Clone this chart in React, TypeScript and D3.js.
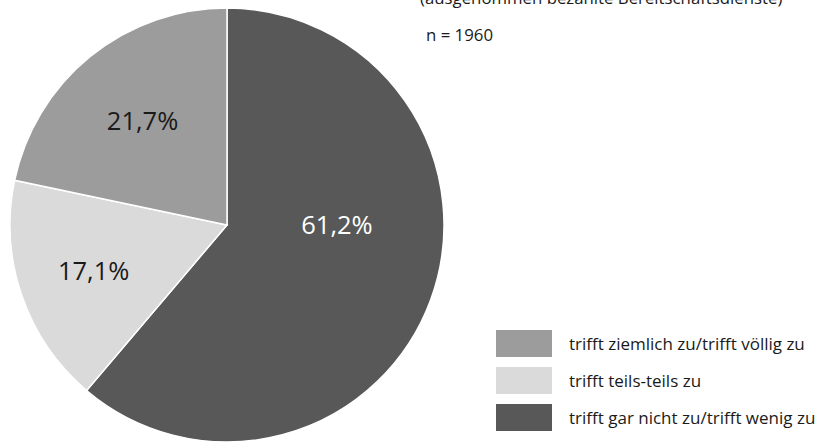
import React from "react";
import * as d3 from "d3";

const categories = [
  "trifft gar nicht zu/trifft wenig zu",
  "trifft teils-teils zu",
  "trifft ziemlich zu/trifft völlig zu",
];
const values = [61.2, 17.1, 21.7];
const colors = ["#585858", "#dadada", "#9c9c9c"];
const labelColors = ["#ffffff", "#1a1a1a", "#1a1a1a"];
const legendOrder = [2, 1, 0];
const subtitle = "(ausgenommen bezahlte Bereitschaftsdienste)";
const nLabel = "n = 1960";

const W = 821;
const H = 442;
const FONT = "'Open Sans', 'Noto Sans', sans-serif";

export default function App() {
  const cx = 227;
  const cy = 225;
  const R = 217;
  const pie = d3.pie<number>().sort(null).value((d) => d)(values);
  const arc = d3.arc<d3.PieArcDatum<number>>().innerRadius(0).outerRadius(R);
  const fmt = (v: number) => v.toFixed(1).replace(".", ",") + "%";

  const labelPos = (d: d3.PieArcDatum<number>, i: number) => {
    const mid = (d.startAngle + d.endAngle) / 2;
    const a = i === 0 ? Math.PI / 2 : mid;
    const r = i === 0 ? 110 : i === 1 ? 141 : 134;
    return [Math.sin(a) * r, -Math.cos(a) * r];
  };

  return (
    <svg
      width={W}
      height={H}
      style={{ position: "fixed", left: 0, top: 0, background: "#fff" }}
      fontFamily={FONT}
    >
      <g transform={`translate(${cx},${cy})`}>
        {pie.map((d, i) => (
          <path key={i} d={arc(d) || ""} fill={colors[i]} stroke="#fff" strokeWidth={1.5} />
        ))}
        {pie.map((d, i) => {
          const [x, y] = labelPos(d, i);
          return (
            <text
              key={i}
              x={x}
              y={y}
              dy="0.36em"
              textAnchor="middle"
              fontSize={25.5}
              fill={labelColors[i]}
            >
              {fmt(values[i])}
            </text>
          );
        })}
      </g>
      <text x={420} y={4} fontSize={16.8} fill="#1a1a1a">
        {subtitle}
      </text>
      <text x={426} y={41} fontSize={16.8} fill="#1a1a1a">
        {nLabel}
      </text>
      {legendOrder.map((ci, k) => {
        const y = 330 + k * 37;
        return (
          <g key={ci}>
            <rect x={496} y={y} width={56} height={27} fill={colors[ci]} />
            <text x={569} y={y + 13.5} dy="0.36em" fontSize={17} fill="#1a1a1a">
              {categories[ci]}
            </text>
          </g>
        );
      })}
    </svg>
  );
}
